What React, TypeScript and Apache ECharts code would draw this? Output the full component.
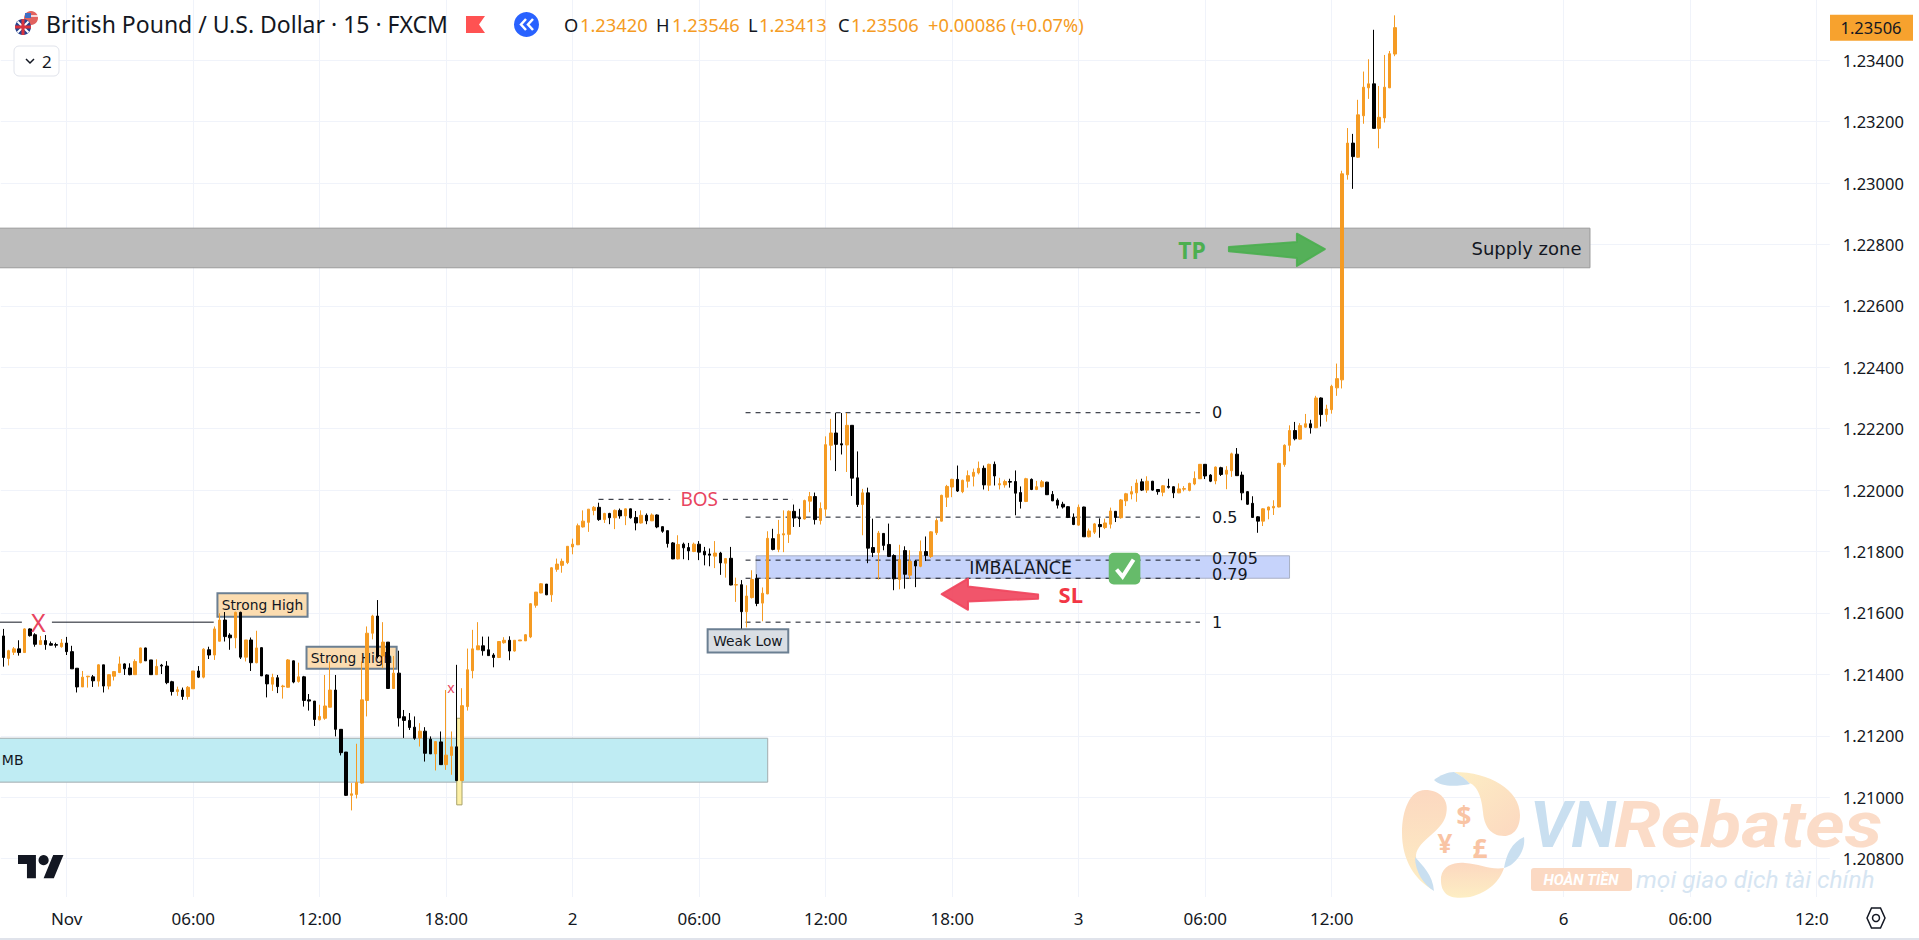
import React, { useEffect, useRef } from "react";
import * as echarts from "echarts";

// Prices are stored as points above 1.20000 (1 point = 0.00001)
const opens = [1525,1452,1472,1483,1471,1548,1529,1497,1510,1500,1497,1490,1502,1474,1420,1359,1392,1392,1378,1431,1362,1394,1406,1434,1421,1399,1438,1486,1447,1399,1430,1427,1376,1344,1349,1328,1353,1411,1391,1480,1463,1508,1577,1528,1519,1602,1456,
1512,1438,1487,1398,1368,1389,1360,1358,1444,1377,1392,1317,1313,1252,1257,1293,1349,1221,1147,1006,1009,1046,1315,1534,1590,1460,1505,1354,1404,1262,1250,1228,1193,1215,1189,1141,1180,1106,1136,1164,1054,1295,1412,1480,1493,1480,1463,1455,
1503,1511,1476,1509,1509,1522,1625,1665,1694,1659,1742,1755,1764,1815,1822,1880,1895,1934,1944,1904,1924,1910,1934,1916,1939,1911,1893,1918,1900,1919,1881,1868,1828,1776,1824,1813,1800,1824,1801,1792,1785,1795,1762,1778,1691,1692,1604,1650,1712,1632,1662,
1842,1807,1854,1856,1931,1910,1906,1964,1979,1901,1938,2146,2186,2151,2147,2211,2040,1953,1991,1813,1797,1859,1823,1787,1709,1803,1723,1769,1752,1800,1784,1861,1899,1977,2010,2035,1995,2029,2045,2056,2071,2016,2084,2017,2017,2028,2028,1992,1963,
2035,2002,2011,2026,1986,1967,1954,1946,1912,1886,1945,1848,1863,1888,1878,1889,1931,1910,1965,1987,1991,2027,2000,2029,2002,1993,2012,2011,1991,2003,1999,2020,2037,2084,2049,2030,2073,2052,2063,2117,2049,1995,1957,1913,1899,1935,1942,1945,2083,
2146,2194,2166,2205,2216,2203,2300,2246,2262,2333,2359,3027,3130,3084,3219,3310,3323,3178,3212,3310,3420];
const closes = [1455,1477,1483,1471,1548,1526,1498,1510,1497,1495,1495,1502,1474,1418,1359,1391,1394,1379,1431,1362,1399,1409,1434,1418,1399,1442,1486,1444,1399,1426,1427,1373,1344,1350,1328,1358,1411,1391,1482,1463,1548,1577,1523,1519,1602,1456,1512,
1438,1486,1395,1369,1390,1360,1362,1447,1375,1392,1315,1313,1253,1263,1297,1349,1221,1145,1006,1011,1048,1317,1534,1590,1458,1505,1354,1404,1258,1250,1227,1192,1215,1143,1141,1181,1106,1137,1164,1054,1298,1415,1483,1493,1477,1461,1455,1507,
1511,1476,1511,1512,1529,1630,1668,1695,1659,1747,1759,1768,1817,1824,1884,1899,1938,1944,1904,1924,1910,1934,1916,1939,1910,1893,1918,1900,1919,1880,1866,1826,1776,1823,1812,1802,1824,1798,1789,1788,1795,1763,1777,1691,1692,1604,1655,1709,1631,1664,1843,
1807,1856,1858,1931,1909,1907,1966,1979,1904,1940,2148,2186,2149,2147,2211,2039,1953,1991,1811,1797,1860,1820,1784,1711,1773,1726,1768,1753,1800,1787,1864,1901,1983,2012,2035,1997,2032,2047,2058,2071,2017,2084,2046,2021,2028,2026,1990,1963,2037,
2002,2011,2027,1985,1965,1951,1945,1911,1888,1944,1848,1867,1890,1881,1893,1932,1911,1968,1988,1995,2023,2000,2029,2000,1995,2014,2009,1991,2004,2005,2022,2038,2084,2046,2029,2075,2051,2065,2118,2047,1991,1954,1911,1899,1939,1945,1947,2087,2146,
2194,2167,2210,2216,2203,2300,2246,2264,2338,2363,3030,3130,3086,3222,3312,3323,3178,3214,3312,3421,3506];
const lows = [1425,1429,1463,1461,1471,1523,1490,1497,1480,1494,1487,1487,1463,1418,1341,1359,1357,1359,1360,1341,1351,1380,1404,1398,1397,1399,1436,1444,1398,1398,1401,1368,1331,1330,1317,1318,1353,1388,1387,1450,1447,1507,1507,1480,1485,1450,1442,
1411,1436,1395,1325,1346,1339,1321,1357,1371,1373,1295,1282,1232,1250,1252,1293,1198,1136,1004,957,996,1044,1263,1514,1452,1420,1354,1354,1230,1193,1219,1187,1165,1116,1141,1087,1105,1089,1073,1053,1053,1282,1387,1480,1461,1461,1423,1453,
1500,1446,1474,1509,1509,1518,1617,1664,1658,1636,1734,1731,1759,1791,1821,1878,1864,1918,1900,1893,1889,1873,1907,1886,1907,1869,1891,1889,1899,1876,1861,1813,1775,1774,1775,1772,1798,1772,1755,1752,1746,1724,1715,1690,1636,1549,1553,1647,1622,1573,1661,
1804,1798,1798,1828,1880,1880,1904,1928,1888,1888,1914,2097,2062,2116,2059,1981,1945,1853,1762,1782,1709,1804,1782,1674,1677,1679,1711,1684,1749,1769,1779,1854,1898,1945,1977,1994,1990,2008,2012,2051,2002,1997,2015,2002,2008,2008,1918,1940,1961,
2000,2000,2009,1984,1964,1940,1940,1909,1886,1884,1848,1846,1857,1845,1873,1875,1896,1907,1948,1970,1962,1997,1991,1998,1985,1980,2005,1974,1990,1996,1996,2016,2036,2036,2026,2019,2046,2003,2043,2046,1967,1952,1910,1861,1883,1905,1919,1944,2076,
2126,2162,2164,2203,2184,2202,2207,2223,2249,2307,2331,3011,2981,3082,3193,3274,3177,3113,3197,3309,3413];
const highs = [1548,1480,1489,1511,1550,1550,1534,1525,1528,1507,1503,1515,1522,1493,1420,1411,1395,1398,1433,1431,1401,1411,1458,1436,1436,1449,1487,1487,1447,1449,1434,1443,1379,1360,1357,1362,1411,1427,1485,1490,1556,1599,1603,1534,1604,1604,1512,
1520,1542,1488,1400,1402,1398,1366,1450,1445,1438,1395,1336,1313,1301,1398,1442,1398,1221,1147,1046,1174,1442,1556,1594,1642,1570,1505,1460,1477,1284,1274,1263,1241,1228,1198,1183,1214,1349,1214,1431,1355,1484,1545,1570,1523,1523,1469,1507,
1521,1524,1511,1512,1531,1632,1668,1697,1694,1749,1777,1777,1817,1842,1891,1934,1938,1948,1959,1926,1926,1937,1940,1940,1940,1932,1934,1924,1924,1921,1882,1868,1831,1853,1829,1828,1829,1834,1815,1810,1834,1799,1779,1815,1715,1707,1690,1739,1726,1683,1866,
1874,1903,1934,1934,1953,1939,1969,1994,1992,1960,2175,2232,2251,2251,2251,2211,2126,2004,2008,1907,1867,1860,1891,1791,1822,1817,1804,1773,1836,1849,1866,1908,1985,2017,2037,2080,2034,2064,2070,2093,2080,2086,2093,2040,2034,2037,2064,2012,2040,
2038,2030,2033,2027,1997,1973,1962,1948,1924,1953,1946,1875,1893,1908,1907,1943,1932,1971,1991,2013,2035,2037,2045,2030,2003,2016,2037,2013,2022,2013,2024,2061,2085,2085,2052,2077,2076,2078,2122,2137,2060,1997,1980,1915,1941,1946,1967,2089,2149,
2211,2222,2218,2248,2229,2307,2302,2278,2343,2412,3040,3179,3160,3271,3363,3403,3499,3316,3417,3430,3546];

const timeLabels: [number, string][] = [[12,"Nov"],[36,"06:00"],[60,"12:00"],[84,"18:00"],[108,"2"],[132,"06:00"],[156,"12:00"],[180,"18:00"],[204,"3"],[228,"06:00"],[252,"12:00"],[296,"6"],[320,"06:00"],[344,"12:00"]];
const priceTicks = [20800,21000,21200,21400,21600,21800,22000,22200,22400,22600,22800,23000,23200,23400];
const lastClose = 3506;

const X_MIN = -0.5, X_MAX = 346.5;
const Y_MIN = 1.20675, Y_MAX = 1.23596;
const price = (n: number) => 1.2 + n / 100000;

// zones: from index, to index, top points, bottom points
const zones = [
  { from:-1, to:301, top:2853, bottom:2724, fill:"#bdbdbd", stroke:"#9a9a9a" },
  { from:-1, to:145, top:1192, bottom:1049, fill:"#bfecf3", stroke:"#a3acae" },
  { from:142.8, to:244, top:1786, bottom:1713, fill:"#c6d3fb", stroke:"#a9b0c4" },
  { from:86, to:87, top:1257, bottom:975, fill:"#fdf0a6", stroke:"#a8a268" },
];
const boxes = [
  { from:40.6, to:57.7, top:1664, bottom:1588, fill:"#fbdcb0", text:"Strong High" },
  { from:57.5, to:74.6, top:1490, bottom:1418, fill:"#fbdcb0", text:"Strong High" },
  { from:133.6, to:148.9, top:1547, bottom:1471, fill:"#d9dee4", text:"Weak Low" },
];
const dashed = [
  { from:140.8, to:227, at:2252 },
  { from:140.8, to:227, at:1912 },
  { from:140.8, to:227, at:1772 },
  { from:140.8, to:227, at:1713 },
  { from:140.8, to:227, at:1570 },
  { from:112.9, to:126.5, at:1970 },
  { from:136.5, to:149.8, at:1970 },
];
const solid = [
  { from:-1, to:3.5, at:1570 },
  { from:9.2, to:39.9, at:1570 },
];
const labels = [
  { x:229.3, at:2252, text:"0", color:"#131722", font:"16px 'DejaVu Sans'", align:"left" },
  { x:229.3, at:1912, text:"0.5", color:"#131722", font:"16px 'DejaVu Sans'", align:"left" },
  { x:229.3, at:1776, text:"0.705", color:"#131722", font:"16px 'DejaVu Sans'", align:"left" },
  { x:229.3, at:1726, text:"0.79", color:"#131722", font:"16px 'DejaVu Sans'", align:"left" },
  { x:229.3, at:1570, text:"1", color:"#131722", font:"16px 'DejaVu Sans'", align:"left" },
  { x:132, at:1970, text:"BOS", color:"#e8455f", font:"19px 'Noto Sans'", align:"center" },
  { x:193, at:1747, text:"IMBALANCE", color:"#131722", font:"17.5px 'DejaVu Sans'", align:"center" },
  { x:299.4, at:2787, text:"Supply zone", color:"#131722", font:"18px 'DejaVu Sans'", align:"right" },
  { x:-0.3, at:1120, text:"MB", color:"#131722", font:"14px 'DejaVu Sans'", align:"left" },
  { x:225.5, at:2783, text:"TP", color:"#4caf50", font:"bold 23px 'Noto Sans'", align:"center" },
  { x:202.5, at:1663, text:"SL", color:"#f23645", font:"bold 22px 'Noto Sans'", align:"center" },
  { x:6.6, at:1572, text:"X", color:"#e8455f", font:"25px 'Noto Sans'", align:"center" },
  { x:84.9, at:1357, text:"x", color:"#e8455f", font:"14px 'Noto Sans'", align:"center" },
];
const arrows = [
  { fill:"#4caf50", points:[[232.5,2792],[245.4,2808],[245.4,2835],[250.7,2785],[245.4,2730],[245.4,2756],[232.5,2778]] },
  { fill:"#f0475e", points:[[178,1661],[183,1712],[183,1686],[196.3,1660],[196.3,1646],[183,1637],[183,1610]] },
];
const checkBadge = { from:209.7, to:215.7, top:1796, bottom:1693 };

const ORANGE = "#f59b23";
const BORDER = "#6b7f92";
const FONT = "'Noto Sans'";

const logoPaths: Record<string, string> = {
  wmA: "M1425 790C1440 790 1450 800 1446 815C1442 832 1418 840 1416 855C1416 870 1428 878 1433 890C1415 880 1402 860 1402 833C1402 810 1410 790 1425 790Z",
  wmB: "M1454 772C1490 772 1520 790 1520 815C1520 830 1512 836 1504 836C1490 836 1484 825 1483 812C1482 800 1478 785 1469 783C1464 778 1460 775 1454 772Z",
  wmC: "M1434 780C1440 775 1448 772 1454 772C1460 775 1466 779 1470 784C1458 786 1442 788 1434 780Z",
  wmD: "M1441 877C1443 865 1455 862 1465 863C1480 864 1490 870 1504 868C1500 880 1490 892 1470 897C1450 900 1440 895 1441 877Z",
  wmE: "M1524 837C1526 850 1516 865 1504 868C1506 855 1512 842 1524 837Z",
  wmF: "M1415 857C1422 865 1433 875 1434 891C1424 885 1415 872 1415 857Z",
};

const pt = (api: any, x: number, n: number) => api.coord([x, price(n)]);
const txt = (x: number, y: number, text: string, fill: string, font: string, align = "left") => ({
  type: "text",
  style: { x, y, text, fill, font, align, textAlign: align, verticalAlign: "middle", textVerticalAlign: "middle" },
});

function rectEl(api: any, z: any, lineWidth = 1) {
  const a = pt(api, z.from, z.top);
  const b = pt(api, z.to, z.bottom);
  return {
    type: "rect",
    shape: { x: a[0], y: a[1], width: b[0] - a[0], height: b[1] - a[1] },
    style: { fill: z.fill, stroke: z.stroke ?? BORDER, lineWidth },
  };
}

function renderBack(_p: any, api: any) {
  const children: any[] = [];
  zones.forEach((z) => children.push(rectEl(api, z)));
  dashed.forEach((d) => {
    const a = pt(api, d.from, d.at), b = pt(api, d.to, d.at);
    children.push({ type: "line", shape: { x1: a[0], y1: a[1], x2: b[0], y2: b[1] }, style: { stroke: "#131722", lineWidth: 1, lineDash: [5, 5] } });
  });
  solid.forEach((d) => {
    const a = pt(api, d.from, d.at), b = pt(api, d.to, d.at);
    children.push({ type: "line", shape: { x1: a[0], y1: a[1], x2: b[0], y2: b[1] }, style: { stroke: "#131722", lineWidth: 1 } });
  });
  boxes.forEach((b) => {
    children.push(rectEl(api, b, 2));
    const a = pt(api, (b.from + b.to) / 2, (b.top + b.bottom) / 2);
    children.push(txt(a[0], a[1], b.text, "#131722", "13.8px 'DejaVu Sans'", "center"));
  });
  return { type: "group", children };
}

function renderFront(_p: any, api: any) {
  const children: any[] = [];
  arrows.forEach((ar) => {
    children.push({ type: "polygon", shape: { points: ar.points.map((q) => pt(api, q[0], q[1])) }, style: { fill: ar.fill, stroke: ar.fill, lineWidth: 2, lineJoin: "round", opacity: 0.92 } });
  });
  labels.forEach((l) => {
    const a = pt(api, l.x, l.at);
    children.push(txt(a[0], a[1], l.text, l.color, l.font, l.align));
  });
  const a = pt(api, checkBadge.from, checkBadge.top), b = pt(api, checkBadge.to, checkBadge.bottom);
  children.push({ type: "rect", shape: { x: a[0], y: a[1], width: b[0] - a[0], height: b[1] - a[1], r: 5 }, style: { fill: "#66bb6a" } });
  const mx = (a[0] + b[0]) / 2, my = (a[1] + b[1]) / 2;
  children.push({ type: "polyline", shape: { points: [[mx - 8, my + 1], [mx - 2, my + 8], [mx + 9, my - 9]] }, style: { stroke: "#fff", lineWidth: 4, fill: "none" } });
  return { type: "group", children };
}

function renderTag(_p: any, api: any) {
  const y = api.coord([0, price(lastClose)])[1];
  return {
    type: "group",
    children: [
      { type: "rect", shape: { x: 1830, y: y - 13, width: 83, height: 26 }, style: { fill: "#f7a22e" } },
      txt(1871, y, price(lastClose).toFixed(5), "#131722", `16.5px ${FONT}`, "center"),
    ],
  };
}

const headerTexts: [number, string, string][] = [
  [564, "O", "#131722"], [580, "1.23420", ORANGE],
  [656, "H", "#131722"], [672, "1.23546", ORANGE],
  [748, "L", "#131722"], [759, "1.23413", ORANGE],
  [838, "C", "#131722"], [851, "1.23506", ORANGE],
  [928, "+0.00086 (+0.07%)", ORANGE],
];

function graphicElements() {
  const t = (x: number, y: number, text: string, fill: string, font: string, align = "left", z = 60, scaleX = 1) => ({
    type: "text", z, silent: true, x, y, scaleX,
    style: { text, fill, font, align, textAlign: align, verticalAlign: "middle", textVerticalAlign: "middle" },
  });
  const wmOrange = "#fbdcc8", wmBlue = "#c9dff0";
  const warm = new echarts.graphic.LinearGradient(0, 0, 0, 1, [
    { offset: 0, color: "#fcd8c0" },
    { offset: 1, color: "#fdeec4" },
  ]);
  const warm2 = new echarts.graphic.LinearGradient(0, 0, 1, 1, [
    { offset: 0, color: "#fdeec4" },
    { offset: 1, color: "#fcd8c0" },
  ]);
  const wm = (type: string, fill: any) => ({ type, z: 1, silent: true, x: 0, y: 0, style: { fill } });
  return [
    // cover beyond the time scale
    { type: "rect", z: 50, silent: true, shape: { x: 1829, y: 897, width: 90, height: 43 }, style: { fill: "#fff" } },
    { type: "rect", z: 51, silent: true, shape: { x: 0, y: 938, width: 1919, height: 2 }, style: { fill: "#e0e3eb" } },
    // settings hexagon
    { type: "polygon", z: 60, silent: true, shape: { points: [[1867,918],[1871.5,908],[1880.5,908],[1885,918],[1880.5,928],[1871.5,928]] }, style: { fill: "none", stroke: "#131722", lineWidth: 1.5 } },
    { type: "circle", z: 60, silent: true, shape: { cx: 1876, cy: 918, r: 3.5 }, style: { fill: "none", stroke: "#131722", lineWidth: 1.5 } },
    // watermark
    wm("wmA", warm),
    wm("wmB", warm2),
    wm("wmC", wmBlue),
    wm("wmD", warm),
    wm("wmE", wmBlue),
    wm("wmF", wmBlue),
    t(1464, 816, "$", "#f9c4a4", "bold 26px 'Noto Sans'", "center", 2),
    t(1445, 843, "¥", "#f9c4a4", "bold 26px 'Noto Sans'", "center", 2),
    t(1480, 848, "£", "#f9c4a4", "bold 26px 'Noto Sans'", "center", 2),
    t(1530, 825, "VN", wmBlue, "italic bold 65px Roboto", "left", 2),
    t(1614, 825, "Rebates", wmOrange, "italic bold 65px Roboto", "left", 2, 1.16),
    { type: "rect", z: 1, silent: true, shape: { x: 1531, y: 868, width: 101, height: 23, r: 3 }, style: { fill: "#fbd9c3" } },
    t(1581, 880, "HOÀN TIỀN", "#fff", "italic bold 15px Roboto", "center", 2),
    t(1636, 879, "mọi giao dịch tài chính", "#d6e5f2", "italic 24.5px Roboto", "left", 2),
    // header
    { type: "circle", z: 60, silent: true, shape: { cx: 31, cy: 18, r: 7 }, style: { fill: "#e2625f" } },
    { type: "rect", z: 60, silent: true, shape: { x: 25, y: 13, width: 6, height: 5 }, style: { fill: "#3f6fc4" } },
    { type: "line", z: 60, silent: true, shape: { x1: 31, y1: 16, x2: 38, y2: 16 }, style: { stroke: "#fff", lineWidth: 1.5 } },
    { type: "circle", z: 61, silent: true, shape: { cx: 23, cy: 27, r: 8 }, style: { fill: "#27438f" } },
    { type: "line", z: 62, silent: true, shape: { x1: 17.5, y1: 21.5, x2: 28.5, y2: 32.5 }, style: { stroke: "#fff", lineWidth: 2 } },
    { type: "line", z: 62, silent: true, shape: { x1: 28.5, y1: 21.5, x2: 17.5, y2: 32.5 }, style: { stroke: "#fff", lineWidth: 2 } },
    { type: "line", z: 63, silent: true, shape: { x1: 15, y1: 27, x2: 31, y2: 27 }, style: { stroke: "#d8343f", lineWidth: 3 } },
    { type: "line", z: 63, silent: true, shape: { x1: 23, y1: 19, x2: 23, y2: 35 }, style: { stroke: "#d8343f", lineWidth: 3 } },
    t(46, 24, "British Pound / U.S. Dollar · 15 · FXCM", "#131722", `23px ${FONT}`),
    { type: "polygon", z: 60, silent: true, shape: { points: [[466,16],[485,16],[479,24.5],[485,33],[466,33]] }, style: { fill: "#ff5252" } },
    { type: "circle", z: 60, silent: true, shape: { cx: 526.5, cy: 24.5, r: 12.5 }, style: { fill: "#2962ff" } },
    { type: "polyline", z: 61, silent: true, shape: { points: [[526,19],[521,24.5],[526,30]] }, style: { fill: "none", stroke: "#fff", lineWidth: 2.5 } },
    { type: "polyline", z: 61, silent: true, shape: { points: [[533,19],[528,24.5],[533,30]] }, style: { fill: "none", stroke: "#fff", lineWidth: 2.5 } },
    ...headerTexts.map(([x, s, c]) => t(x, 24, s, c, `18.3px ${FONT}`)),
    // interval button
    { type: "rect", z: 60, silent: true, shape: { x: 14, y: 46, width: 45, height: 30, r: 5 }, style: { fill: "#fff", stroke: "#e0e3eb", lineWidth: 1 } },
    { type: "polyline", z: 61, silent: true, shape: { points: [[26,59],[30,63],[34,59]] }, style: { fill: "none", stroke: "#131722", lineWidth: 1.5 } },
    t(42, 61, "2", "#131722", `17px ${FONT}`),
    // TradingView mark
    { type: "tvlogo", z: 60, silent: true, x: 18, y: 850, scaleX: 1.28, scaleY: 1.28, style: { fill: "#131722" } },
    { type: "circle", z: 60, silent: true, shape: { cx: 43.6, cy: 860.2, r: 5.1 }, style: { fill: "#131722" } },
  ];
}

export default function App() {
  const ref = useRef<HTMLDivElement>(null);
  useEffect(() => {
    document.body.style.margin = "0";
    document.body.style.overflow = "hidden";
    echarts.graphic.registerShape("tvlogo", echarts.graphic.extendPath("M14 22H7V11H0V4h14v18zM28 22h-8l7.5-18h8L28 22z", {}) as any);
    Object.keys(logoPaths).forEach((k) => echarts.graphic.registerShape(k, echarts.graphic.extendPath(logoPaths[k], {}) as any));
    const chart = echarts.init(ref.current!, null, { renderer: "svg" });
    const candles = opens.map((o, i) => [i, price(o), price(closes[i]), price(lows[i]), price(highs[i])]);
    chart.setOption({
      animation: false,
      backgroundColor: "#fff",
      textStyle: { fontFamily: "Noto Sans" },
      grid: { left: 0.8, top: 0, width: 1829, height: 897, containLabel: false },
      xAxis: {
        type: "value", min: X_MIN, max: X_MAX,
        axisLine: { show: false },
        axisTick: { show: false, customValues: timeLabels.map((t) => t[0]) },
        splitLine: { show: true, lineStyle: { color: "#f0f3fa", width: 1 } },
        axisLabel: {
          customValues: timeLabels.map((t) => t[0]),
          formatter: (v: number) => (timeLabels.find((t) => t[0] === v) || [0, ""])[1],
          color: "#131722", fontSize: 17, margin: 13, hideOverlap: false, showMinLabel: true, showMaxLabel: true,
        },
      },
      yAxis: {
        type: "value", position: "right", min: Y_MIN, max: Y_MAX,
        axisLine: { show: false },
        axisTick: { show: false, customValues: priceTicks.map((n) => price(n - 20000)) },
        splitLine: { show: true, lineStyle: { color: "#f0f3fa", width: 1 } },
        axisLabel: {
          customValues: priceTicks.map((n) => price(n - 20000)),
          formatter: (v: number) => v.toFixed(5),
          color: "#131722", fontSize: 16.5, margin: 13,
        },
      },
      series: [
        { type: "custom", z: 1, clip: true, silent: true, data: [[0, price(1500)]], renderItem: renderBack },
        {
          type: "candlestick", z: 2, barWidth: 3, silent: true, data: candles,
          itemStyle: { color: ORANGE, color0: "#000", borderColor: ORANGE, borderColor0: "#000", borderWidth: 1 },
        },
        { type: "custom", z: 3, clip: true, silent: true, data: [[0, price(1500)]], renderItem: renderFront },
        { type: "custom", z: 4, clip: false, silent: true, data: [[0, price(1500)]], renderItem: renderTag },
      ],
      graphic: { elements: graphicElements() },
    });
    return () => chart.dispose();
  }, []);
  return <div ref={ref} style={{ width: 1919, height: 940 }} />;
}
